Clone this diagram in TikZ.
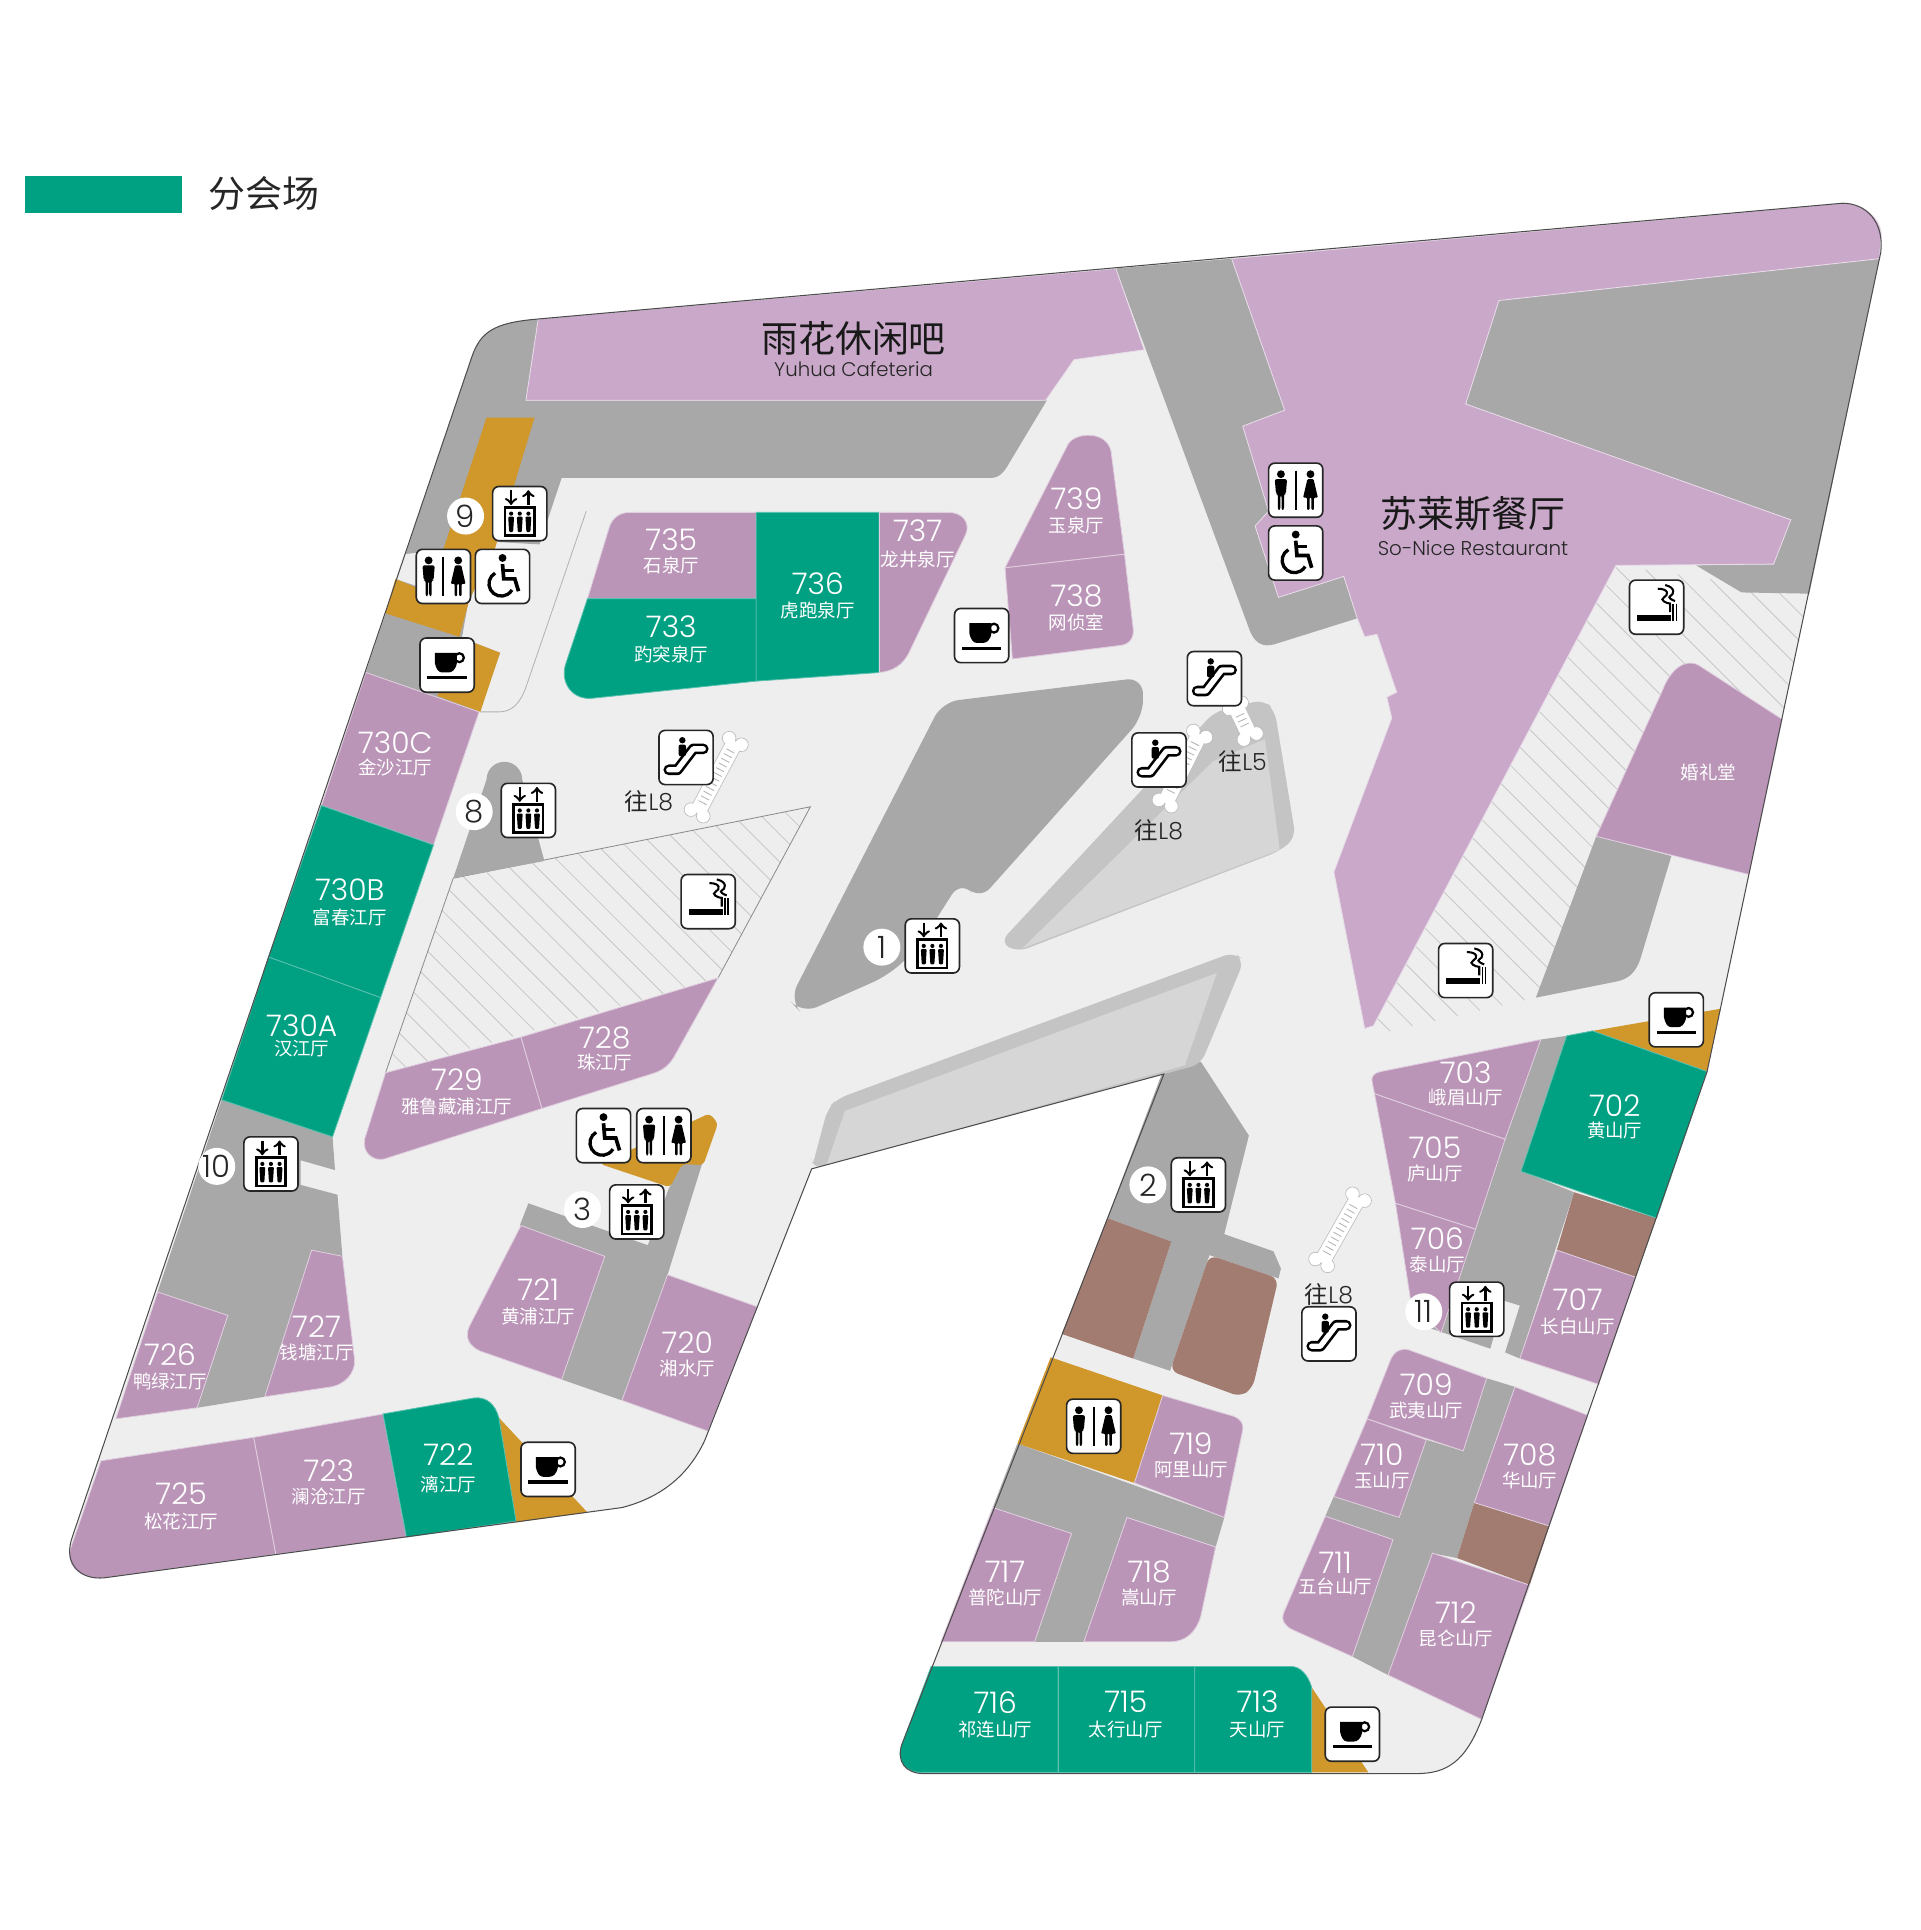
\documentclass[tikz,border=0pt]{standalone}
\usepackage{fontspec}
\setmainfont{Noto Sans CJK SC}
\newfontfamily\numfont{Poppins Light}
\usetikzlibrary{calc,patterns.meta}
\definecolor{floorgrey}{HTML}{EEEEEE}
\definecolor{wallgrey}{HTML}{A9A8A9}
\definecolor{hallpurple}{HTML}{C9A8C9}
\definecolor{roompurple}{HTML}{BB95B8}
\definecolor{mainroom}{HTML}{00A082}
\definecolor{servgold}{HTML}{D0972B}
\definecolor{brownroom}{HTML}{A27C70}
\definecolor{rampgrey}{HTML}{D6D6D6}
\definecolor{rampedge}{HTML}{C4C4C4}
\tikzset{
	wall/.style={fill=wallgrey},
	hall/.style={fill=hallpurple,draw=white!60!hallpurple,line width=.4pt},
	room/.style={fill=roompurple,draw=white!55!roompurple,line width=.4pt},
	main/.style={fill=mainroom,draw=white!35!mainroom,line width=.4pt},
	serv/.style={fill=servgold},
	brown/.style={fill=brownroom},
	hatch/.style={fill=floorgrey,pattern color=black!22,pattern={Lines[distance=9.5pt,angle=-45,line width=.4pt]}},
	numlabel/.style={font=\numfont\fontsize{14.5}{15}\selectfont,text=white,inner sep=0pt},
	cnlabel/.style={font=\fontsize{9}{9}\selectfont,text=white,inner sep=0pt},
	goto/.style={font=\fontsize{11.5}{12}\selectfont,text=black!85,inner sep=0pt},
	numdot/.style={circle,fill=white,inner sep=0pt,minimum size=18pt,font=\numfont\fontsize{15}{15}\selectfont,text=black!85},
	iconbox/.style={fill=white,draw=black!85,line width=.8pt,rounded corners=3pt},
	pics/lifticon/.style={code={
		\draw[iconbox] (-22,-22) rectangle (22,22);
		\draw[line width=1.2pt,-to] (-7,-19) -- (-7,-7);
		\draw[line width=1.2pt,-to] (7,-7) -- (7,-19);
		\draw[line width=1.3pt] (-12,-5) rectangle (12,18);
		\foreach \fx in {-7,0,7} {
			\fill (\fx,0) circle (1.7);
			\fill[rounded corners=.5pt] (\fx-2.4,2.5) -- (\fx+2.4,2.5) -- (\fx+1.6,15) -- (\fx-1.6,15) -- cycle;
		}
	}},
	pics/loowomen/.style={code={
		\draw[iconbox] (-22,-22) rectangle (22,22);
		\fill (-12,-13) circle (3.2);
		\fill[rounded corners=1pt] (-17,-9) -- (-7,-9) -- (-8,3) -- (-9.5,3) -- (-9.5,16) -- (-11.5,16) -- (-11.5,4) -- (-12.5,4) -- (-12.5,16) -- (-14.5,16) -- (-14.5,3) -- (-16,3) -- cycle;
		\draw[line width=.9pt] (0,-16) -- (0,16);
		\fill (12,-13) circle (3.2);
		\fill[rounded corners=.5pt] (9.5,-9) -- (14.5,-9) -- (18,6) -- (14.8,6) -- (14.8,16) -- (12.8,16) -- (12.8,6) -- (11.2,6) -- (11.2,16) -- (9.2,16) -- (9.2,6) -- (6,6) -- cycle;
	}},
	pics/chairicon/.style={code={
		\draw[iconbox] (-22,-22) rectangle (22,22);
		\fill (0,-15) circle (3.2);
		\draw[line width=1.8pt] (0,-10) -- (1,2) -- (10,2) -- (13,12);
		\draw[line width=1.5pt] (1,-5) -- (9,-5);
		\draw[line width=1.6pt] (-6,-2.7) arc[start angle=240,end angle=30,radius=10];
	}},
	pics/cupicon/.style={code={
		\draw[iconbox] (-22,-22) rectangle (22,22);
		\fill (-10,-10) -- (8,-10) -- (8,-2) .. controls (7,4) and (4,6) .. (1,6) -- (-4,6) .. controls (-7,6) and (-9,3) .. (-10,-2) -- cycle;
		\draw[line width=1.1pt] (10,-6) circle (3.6);
		\fill (-16,9) rectangle (16,11.5);
	}},
	pics/smokeicon/.style={code={
		\draw[iconbox] (-22,-22) rectangle (22,22);
		\fill (-16,6) rectangle (12,11);
		\draw[line width=.7pt] (13.5,-3) -- (13.5,11);
		\draw[line width=.7pt] (16,-3) -- (16,11);
		\draw[line width=1pt] (1,-15) .. controls (10,-15) and (10,-10) .. (6,-8) .. controls (2,-6) and (8,-3) .. (11,-3) -- (11,4);
		\draw[line width=1pt] (7,-18) .. controls (16,-16) and (14,-10) .. (11,-9) .. controls (9,-8) and (12,-6) .. (15,-5);
	}},
	pics/escicon/.style={code={
		\draw[iconbox] (-22,-22) rectangle (22,22);
		\draw[black,line width=5.2pt,line cap=round,line join=round] (-14,10) -- (-7,10) -- (6,-7) -- (14,-7);
		\draw[white,line width=2.6pt,line cap=round,line join=round] (-14,10) -- (-7,10) -- (6,-7) -- (14,-7);
		\fill (-3,-14) circle (2.6);
		\fill[rounded corners=1pt] (-6,-10.5) rectangle (0,-1);
	}}
}
% moving stairs, drawn white with grey edge
\newcommand{\stairstrip}[4]{
	\coordinate (sa) at (#1,#2);
	\coordinate (sb) at (#3,#4);
	\foreach \e/\o in {sa/sb,sb/sa} {
		\fill[white,draw=black!25,line width=.4pt] ($(\e)!3.4pt!90:(\o)$) circle (5.5);
		\fill[white,draw=black!25,line width=.4pt] ($(\e)!3.4pt!-90:(\o)$) circle (5.5);
	}
	\draw[black!25,line width=8.4pt] (sa) -- (sb);
	\draw[white,line width=7.6pt] (sa) -- (sb);
	\foreach \e/\o in {sa/sb,sb/sa} {
		\fill[white] ($(\e)!3.4pt!90:(\o)$) circle (5);
		\fill[white] ($(\e)!3.4pt!-90:(\o)$) circle (5);
	}
	\draw[black!30,line width=4.4pt,dash pattern=on .4pt off 2.2pt,shorten >=5pt,shorten <=5pt] (sa) -- (sb);
}

\begin{document}
\begin{tikzpicture}[x=0.6pt,y=-0.6pt]
	\useasboundingbox (0,0) rectangle (1559,1567);

	%Legend
	\fill[mainroom] (20,143) rectangle (148,173);
	\node[font=\fontsize{18}{18}\selectfont,text=black!85,inner sep=0pt] (legendtext) at (214,157) {分会场};

	%Floor
	\fill[floorgrey] (437,259) -- (1496,165) .. controls (1515,165) and (1530,180) .. (1527,205) -- (1386,870) -- (1203,1396) .. controls (1190,1430) and (1175,1440) .. (1150,1440) -- (750,1440) .. controls (735,1440) and (728,1430) .. (732,1417) -- (945,872) -- (659,949) -- (572,1170) .. controls (560,1195) and (540,1215) .. (505,1224) -- (85,1281) .. controls (65,1283) and (52,1270) .. (58,1250) -- (383,290) .. controls (390,270) and (400,262) .. (437,259) -- cycle;

	%Hatched areas
	\path[hatch] (368,713) -- (658,655) -- (583,794) -- (313,871) -- cycle;
	\path[hatch] (1312,459) -- (1469,482) -- (1447,584) -- (1296,679) -- (1247,810) -- (1125,838) -- (1110,830) -- cycle;
	\draw[black!45,line width=.4pt] (313,871) -- (368,713) -- (658,655) -- (583,794);

	%Walls
	\fill[wall] (437,259) .. controls (400,262) and (390,270) .. (383,290) -- (297,546) -- (389,578) -- (406,530) -- (375,518) -- (380,490) -- (402,440) -- (438,442) -- (456,388) -- (805,388) .. controls (812,388) and (816,382) .. (820,375) -- (850,325) -- (427,325) -- cycle;
	\fill[floorgrey] (328,450) -- (345,448) -- (345,478) -- (321,470) -- cycle;
	\draw[black!30,line width=.4pt] (476,415) -- (427,558) .. controls (422,572) and (415,578) .. (405,578) -- (390,578);
	\fill[wall] (368,713) -- (395,633) arc[start angle=180,end angle=360,radius=14.5] -- (442,699) -- cycle;
	\fill[wall,rounded corners=8pt] (765,570) -- (928,550) -- (928,582) -- (795,731) -- (780,715) -- (745,770) -- (721,792) -- (651,823) -- (641,812) -- cycle;
	\fill[wall] (906,218) -- (1000,210) -- (1043,333) -- (1009,346) -- (1030,415) -- (1038,485) -- (1091,468) -- (1102,502) -- (1035,523) .. controls (1025,526) and (1018,522) .. (1014,510) -- cycle;
	\fill[wall] (1217,244) -- (1526,210) -- (1469,482) -- (1414,481) -- (1377,459) -- (1440,458) -- (1454,422) -- (1190,328) -- cycle;
	\fill[wall] (1296,679) -- (1357,695) -- (1332,778) .. controls (1328,790) and (1322,795) .. (1312,797) -- (1247,810) -- cycle;
	\fill[wall] (180,893) -- (270,923) -- (272,950) -- (244,942) -- (244,962) -- (274,970) -- (278,1020) -- (253,1015) -- (215,1134) -- (160,1143) -- (185,1068) -- (128,1049) -- cycle;
	\fill[wall] (429,977) -- (422,995) -- (491,1020) -- (456,1120) -- (505,1137) -- (542,1035) -- (570,945) -- (554,945) -- (543,965) -- (526,1011) -- cycle;
	\fill[wall] (944,870) -- (975,862) -- (1014,922) -- (994,1002) -- (1034,1016) -- (1040,1030) -- (1038,1038) -- (982,1019) -- (950,1113) -- (920,1103) -- (951,1008) -- (899,989) -- cycle;
	\fill[wall] (826,1172) -- (994,1232) -- (987,1256) -- (915,1232) -- (880,1333) -- (840,1333) -- (870,1245) -- (806,1224) -- cycle;
	\fill[wall] (1251,844) -- (1272,841) -- (1236,951) -- (1278,968) -- (1234,1103) -- (1222,1098) -- (1234,1060) -- (1221,1056) -- (1210,1095) -- (1160,1078) -- cycle;
	\fill[wall] (1207,1119) -- (1230,1126) -- (1197,1220) -- (1183,1265) -- (1163,1261) -- (1127,1360) -- (1098,1345) -- (1131,1250) -- (1076,1231) -- (1083,1215) -- (1136,1232) -- (1158,1169) -- (1188,1178) -- cycle;

	%Ramps
	\fill[rampedge,rounded corners=5pt] (812,765) -- (986,578) -- (1026,568) -- (1035,577) -- (1052,680) -- (1039,691) -- (826,773) -- cycle;
	\fill[rampgrey] (830,770) -- (985,618) -- (1027,600) -- (1039,690) -- cycle;
	\fill[rampedge,rounded corners=5pt] (659,949) -- (672,900) -- (680,892) -- (1002,773) -- (1010,780) -- (975,864) -- (659,949) -- cycle;
	\fill[rampgrey] (671,946) -- (686,902) -- (988,790) -- (962,865) -- cycle;

	%Service rooms
	\fill[serv] (395,339) -- (434,339) -- (402,445) -- (381,487) -- (373,517) -- (313,498) -- (321,470) -- (345,480) -- (360,446) -- cycle;
	\fill[serv] (375,518) -- (406,530) -- (390,578) -- (355,565) -- cycle;
	\fill[serv,rounded corners=2pt] (520,930) -- (576,904) -- (583,912) -- (571,946) -- (554,945) -- (544,964) -- (487,945) -- cycle;
	\fill[serv] (405,1151) -- (477,1228) -- (419,1236) -- cycle;
	\fill[serv] (1065,1370) -- (1111,1439) -- (1065,1439) -- cycle;
	\fill[serv] (1293,837) -- (1397,819) -- (1386,870) -- cycle;
	\path[serv] (853,1102) -- (944,1133) -- (921,1204) -- (826,1172) -- cycle;

	%Brown rooms
	\path[brown] (899,989) -- (951,1008) -- (920,1103) -- (862,1083) -- cycle;
	\path[brown,rounded corners=4pt] (982,1019) -- (1038,1038) -- (1017,1127) -- (1007,1134) -- (950,1113) -- cycle;
	\path[brown] (1278,968) -- (1345,989) -- (1328,1037) -- (1264,1015) -- cycle;
	\path[brown] (1197,1220) -- (1258,1239) -- (1242,1287) -- (1183,1265) -- cycle;

	%Halls
	\path[hall] (437,259) -- (906,218) -- (929,284) -- (872,292) -- (849,325) -- (427,325) -- cycle;
	\path[hall] (1000,210) -- (1496,165) .. controls (1515,165) and (1530,180) .. (1527,195) -- (1526,210) -- (1217,244) -- (1190,328) -- (1454,422) -- (1440,458) -- (1312,459) -- (1115,833) -- (1108,835) -- (1083,708) -- (1130,583) -- (1126,566) -- (1134,562) -- (1118,515) -- (1108,517) -- (1102,502) -- (1091,468) -- (1038,485) -- (1019,427) -- (1030,415) -- (1009,346) -- (1043,333) -- cycle;

	%Rooms
	\path[room] (512,416) -- (614,416) -- (614,486) -- (477,486) -- (495,427) .. controls (498,420) and (503,416) .. (512,416) -- cycle;
	\path[main] (477,486) -- (614,486) -- (614,553) -- (480,567) .. controls (465,568) and (455,555) .. (459,540) -- cycle;
	\path[main] (614,416) -- (714,416) -- (714,546) -- (614,553) -- cycle;
	\path[room] (714,416) -- (770,416) .. controls (782,416) and (788,425) .. (784,434) -- (738,530) .. controls (733,540) and (725,545) .. (714,546) -- cycle;
	\path[room] (816,461) -- (867,361) .. controls (872,351) and (898,349) .. (902,366) -- (913,450) -- cycle;
	\path[room] (816,461) -- (913,450) -- (920,510) .. controls (921,518) and (917,523) .. (910,524) -- (822,535) -- cycle;
	\path[room] (297,546) -- (389,578) -- (352,686) -- (261,654) -- cycle;
	\path[main] (261,654) -- (352,686) -- (309,810) -- (218,777) -- cycle;
	\path[main] (218,777) -- (309,810) -- (270,923) -- (180,893) -- cycle;
	\path[room] (423,842) -- (313,871) -- (296,925) .. controls (294,936) and (303,943) .. (312,941) -- (440,900) -- cycle;
	\path[room] (423,842) -- (583,794) -- (549,855) .. controls (545,863) and (540,868) .. (532,871) -- (440,900) -- cycle;
	\path[room] (423,995) -- (491,1020) -- (456,1120) -- (390,1097) .. controls (381,1093) and (377,1086) .. (381,1077) -- cycle;
	\path[room] (542,1035) -- (615,1061) -- (575,1162) -- (505,1137) -- cycle;
	\path[room] (253,1015) -- (278,1020) -- (288,1105) .. controls (288,1115) and (280,1124) .. (269,1126) -- (215,1134) -- cycle;
	\path[room] (128,1049) -- (185,1068) -- (160,1143) -- (94,1152) -- cycle;
	\path[room] (82,1186) -- (206,1167) -- (224,1262) -- (85,1281) .. controls (65,1283) and (52,1270) .. (58,1255) -- cycle;
	\path[room] (206,1167) -- (311,1148) -- (330,1248) -- (224,1262) -- cycle;
	\path[main] (311,1148) -- (385,1135) .. controls (395,1134) and (402,1140) .. (405,1151) -- (419,1235) -- (330,1248) -- cycle;
	\path[room] (1114,878) .. controls (1113,874) and (1116,871) .. (1121,870) -- (1251,844) -- (1222,925) -- (1116,888) -- cycle;
	\path[room] (1116,888) -- (1222,925) -- (1198,998) -- (1133,977) -- cycle;
	\path[room] (1133,977) -- (1198,998) -- (1170,1082) -- (1146,1060) -- cycle;
	\path[main] (1272,841) -- (1293,837) -- (1386,870) -- (1345,989) -- (1235,951) -- cycle;
	\path[room] (1264,1015) -- (1328,1037) -- (1298,1124) -- (1234,1103) -- cycle;
	\path[room] (1144,1096) -- (1207,1119) -- (1188,1178) -- (1110,1152) -- (1129,1104) .. controls (1132,1097) and (1138,1094) .. (1144,1096) -- cycle;
	\path[room] (1110,1152) -- (1158,1169) -- (1136,1232) -- (1083,1215) -- cycle;
	\path[room] (1230,1126) -- (1289,1149) -- (1258,1239) -- (1197,1220) -- cycle;
	\path[room] (1076,1231) -- (1131,1250) -- (1098,1345) -- (1049,1323) .. controls (1043,1320) and (1040,1315) .. (1042,1310) -- cycle;
	\path[room] (1163,1261) -- (1242,1287) -- (1203,1396) -- (1127,1360) -- cycle;
	\path[room] (944,1133) -- (1002,1150) .. controls (1007,1152) and (1010,1156) .. (1009,1161) -- (994,1232) -- (921,1204) -- cycle;
	\path[room] (806,1224) -- (870,1245) -- (840,1333) -- (764,1333) -- cycle;
	\path[room] (915,1232) -- (987,1256) -- (975,1312) .. controls (971,1326) and (962,1333) .. (950,1333) -- (880,1333) -- cycle;
	\path[main] (756,1353) -- (859,1353) -- (859,1439) -- (750,1439) .. controls (735,1440) and (728,1430) .. (732,1417) -- cycle;
	\path[main] (859,1353) -- (970,1353) -- (970,1439) -- (859,1439) -- cycle;
	\path[main] (970,1353) -- (1048,1353) .. controls (1056,1353) and (1062,1360) .. (1065,1370) -- (1065,1439) -- (970,1439) -- cycle;
	\path[room] (1379,540) -- (1447,584) -- (1420,710) -- (1296,679) -- (1350,560) .. controls (1356,544) and (1368,534) .. (1379,540) -- cycle;

	%Outer line
	\draw[black!70,line width=.5pt] (437,259) -- (1496,165) .. controls (1515,165) and (1530,180) .. (1527,205) -- (1386,870) -- (1203,1396) .. controls (1190,1430) and (1175,1440) .. (1150,1440) -- (750,1440) .. controls (735,1440) and (728,1430) .. (732,1417) -- (945,872) -- (659,949) -- (572,1170) .. controls (560,1195) and (540,1215) .. (505,1224) -- (85,1281) .. controls (65,1283) and (52,1270) .. (58,1250) -- (383,290) .. controls (390,270) and (400,262) .. (437,259) -- cycle;

	%Moving stairs
	\stairstrip{597}{602}{566}{660}
	\stairstrip{974}{596}{946}{652}
	\stairstrip{1003}{573}{1015}{598}
	\stairstrip{1103}{972}{1073}{1025}

	%Room labels
	\foreach \nm/\lx/\ly/\ty/\rname in {
		735/545/438/459/石泉厅, 733/545/509/531/趵突泉厅, 736/664/474/496/虎跑泉厅, 737/745/431/454/龙井泉厅,
		739/874/405/427/玉泉厅, 738/874/484/505/网侦室, 730C/321/603/623/金沙江厅, 730B/284/722/745/富春江厅,
		730A/245/833/851/汉江厅, 729/371/877/898/雅鲁藏浦江厅, 728/491/843/863/珠江厅, 721/437/1047/1069/黄浦江厅,
		720/558/1090/1111/湘水厅, 727/257/1077/1098/钱塘江厅, 726/138/1100/1122/鸭绿江厅, 725/147/1213/1235/松花江厅,
		723/267/1194/1215/澜沧江厅, 722/364/1181/1205/漓江厅, 703/1190/871/891/峨眉山厅, 705/1165/932/953/庐山厅,
		706/1167/1006/1027/泰山厅, 702/1311/898/918/黄山厅, 707/1281/1055/1077/长白山厅, 709/1158/1124/1145/武夷山厅,
		710/1122/1181/1202/玉山厅, 708/1242/1181/1202/华山厅, 711/1084/1269/1288/五台山厅, 712/1182/1309/1330/昆仑山厅,
		719/967/1172/1193/阿里山厅, 717/816/1276/1297/普陀山厅, 718/933/1276/1297/嵩山厅, 716/808/1382/1404/祁连山厅,
		715/914/1382/1404/太行山厅, 713/1021/1382/1404/天山厅} {
		\node[numlabel] (r\nm) at (\lx,\ly) {\nm};
		\node[cnlabel] (t\nm) at (\lx,\ty) {\rname};
	}
	\node[cnlabel] (wedding) at (1387,627) {婚礼堂};

	%Hall names
	\node[font=\fontsize{18}{18}\selectfont,text=black!90,inner sep=0pt] (yuhua) at (693,275) {雨花休闲吧};
	\node[font=\numfont\fontsize{9.6}{10}\selectfont,text=black!85,inner sep=0pt] (yuhuaen) at (693,300) {Yuhua Cafeteria};
	\node[font=\fontsize{18}{18}\selectfont,text=black!90,inner sep=0pt] (sonice) at (1196,417) {苏莱斯餐厅};
	\node[font=\numfont\fontsize{9.7}{10}\selectfont,text=black!85,inner sep=0pt] (soniceen) at (1196,445) {So-Nice Restaurant};

	%Escalator targets
	\node[goto] (goa) at (527,651) {往{\numfont L8}};
	\node[goto] (gob) at (941,674) {往{\numfont L8}};
	\node[goto] (goc) at (1009,618) {往{\numfont L5}};
	\node[goto] (god) at (1079,1051) {往{\numfont L8}};

	%Icons
	\foreach \p in {(422,417),(429,658),(757,768),(220,945),(517,984),(973,962),(1199,1063)} {
		\pic at \p {lifticon};
	}
	\foreach \p in {(360,468),(539,922),(1052,398),(888,1158)} {
		\pic at \p {loowomen};
	}
	\foreach \p in {(408,468),(490,922),(1052,449)} {
		\pic at \p {chairicon};
	}
	\foreach \p in {(363,540),(797,516),(445,1193),(1361,828),(1098,1408)} {
		\pic at \p {cupicon};
	}
	\foreach \p in {(575,732),(1345,493),(1190,788)} {
		\pic at \p {smokeicon};
	}
	\foreach \p in {(557,615),(986,551),(941,617),(1079,1083)} {
		\pic at \p {escicon};
	}

	%Lift numbers
	\foreach \nm/\lx/\ly in {9/378/419,8/385/659,1/716/769,10/176/947,3/473/982,2/932/962,11/1156/1065} {
		\node[numdot] (lift\nm) at (\lx,\ly) {\nm};
	}
\end{tikzpicture}
\end{document}
